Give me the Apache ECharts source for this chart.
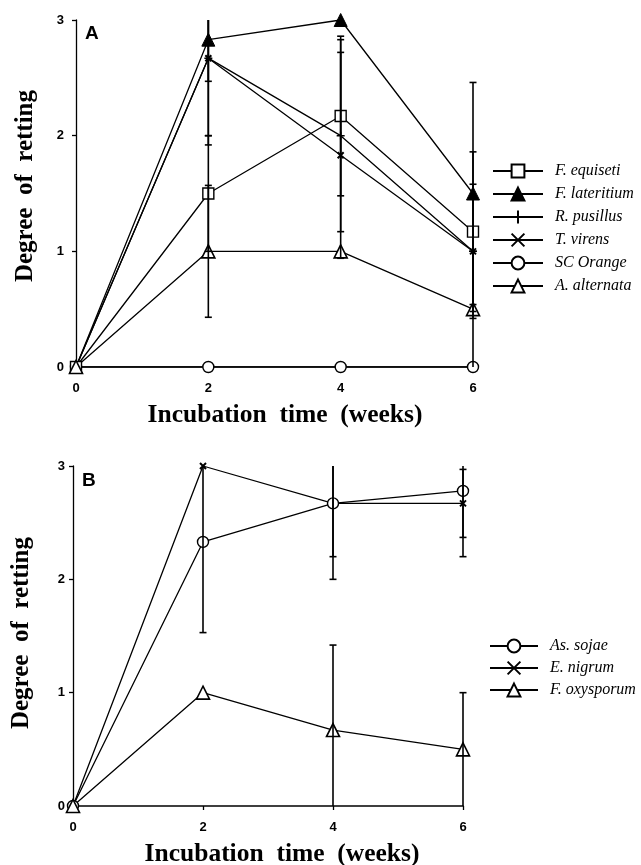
<!DOCTYPE html>
<html>
<head>
<meta charset="utf-8">
<script src="https://cdn.jsdelivr.net/npm/echarts@6/dist/echarts.min.js"></script>
<style>
html,body{margin:0;padding:0;background:#fff;}
#chart{width:641px;height:865px;}
</style>
</head>
<body>
<div id="chart"></div>
<script>
// ---- data ----
const weeks = [0, 2, 4, 6];
const xTicks = [0, 2, 4, 6];
const yTicks = [0, 1, 2, 3];

// Panel A
const fEquiseti = [0, 1.5, 2.17, 1.17];
const fEquisetiErr = [0, 0.5, 0.69, 0.69];
const fLateritium = [0, 2.83, 3.0, 1.5];
const fLateritiumErr = [0, 0.36, 0, 0.96];
const rPusillus = [0, 2.67, 2.0, 1.0];
const rPusillusErr = [0, 0.75, 0.83, 0.58];
const tVirens = [0, 2.67, 1.83, 1.0];
const tVirensErr = [0, 0.67, 0.89, 0];
const scOrange = [0, 0, 0, 0];
const scOrangeErr = [0, 0, 0, 0];
const aAlternata = [0, 1.0, 1.0, 0.5];
const aAlternataErr = [0, 0.57, 0, 0.5];

// Panel B
const asSojae = [0, 2.33, 2.67, 2.78];
const asSojaeErr = [0, 0.8, 0.67, 0.58];
const eNigrum = [0, 3.0, 2.67, 2.67];
const eNigrumErr = [0, 0, 0.47, 0.3];
const fOxysporum = [0, 1.0, 0.67, 0.5];
const fOxysporumErr = [0, 0, 0.75, 0.5];

const namesA = ['F. equiseti', 'F. lateritium', 'R. pusillus', 'T. virens', 'SC Orange', 'A. alternata'];
const namesB = ['As. sojae', 'E. nigrum', 'F. oxysporum'];

// ---- styles ----
const Y_MIN = 0, Y_MAX = 3;
const PLUS = 'path://M0,5L10,5M5,0L5,10';
const CROSS = 'path://M0,0L10,10M10,0L0,10';
const markers = {
  square: {symbol: 'rect', symbolSize: 11, itemStyle: {color: '#fff', borderColor: '#000', borderWidth: 1.4}},
  filledTri: {symbol: 'triangle', symbolSize: 13, itemStyle: {color: '#000', borderColor: '#000', borderWidth: 1}},
  plus: {symbol: PLUS, symbolSize: 8, itemStyle: {color: '#000', borderColor: '#000', borderWidth: 1.5}},
  cross: {symbol: CROSS, symbolSize: 6, itemStyle: {color: '#000', borderColor: '#000', borderWidth: 2}},
  circle: {symbol: 'circle', symbolSize: 11, itemStyle: {color: '#fff', borderColor: '#000', borderWidth: 1.4}},
  openTri: {symbol: 'triangle', symbolSize: 13, itemStyle: {color: '#fff', borderColor: '#000', borderWidth: 1.6}}
};

function pairs(vals) { return weeks.map((w, i) => [w, vals[i]]); }
function errs(vals, e) {
  const out = [];
  weeks.forEach((w, i) => { if (e[i] > 0) out.push([w, vals[i] - e[i], vals[i] + e[i]]); });
  return out;
}

function lineSeries(name, vals, mk, idx) {
  return Object.assign({
    type: 'line', name: name, data: pairs(vals),
    xAxisIndex: idx, yAxisIndex: idx,
    lineStyle: {color: '#000', width: 1.3},
    showSymbol: true, z: 2, animation: false, silent: true
  }, JSON.parse(JSON.stringify(mk)));
}

function errSeries(name, vals, e, idx) {
  return {
    type: 'custom', name: name + ' err', xAxisIndex: idx, yAxisIndex: idx,
    data: errs(vals, e), clip: false, z: 3, animation: false, silent: true,
    renderItem: function (params, api) {
      const x = api.value(0), lo = api.value(1), hi = api.value(2);
      const loC = Math.max(lo, Y_MIN), hiC = Math.min(hi, Y_MAX);
      const p0 = api.coord([x, hiC]), p1 = api.coord([x, loC]);
      const w = 3.5, st = {stroke: '#000', lineWidth: 1.6};
      const ch = [{type: 'line', shape: {x1: p0[0], y1: p0[1], x2: p1[0], y2: p1[1]}, style: st}];
      if (hi <= Y_MAX) ch.push({type: 'line', shape: {x1: p0[0] - w, y1: p0[1], x2: p0[0] + w, y2: p0[1]}, style: st});
      if (lo > Y_MIN) ch.push({type: 'line', shape: {x1: p1[0] - w, y1: p1[1], x2: p1[0] + w, y2: p1[1]}, style: st});
      return {type: 'group', children: ch};
    }
  };
}

const tickFont = {fontFamily: '"Liberation Sans", Arial, sans-serif', fontWeight: 'bold', fontSize: 13, color: '#000'};
function xAx(idx) {
  return {type: 'value', gridIndex: idx, min: 0, max: 6, interval: 2,
    splitLine: {show: false},
    axisLine: {show: true, onZero: false, lineStyle: {color: '#000', width: 1.6}},
    axisTick: {show: true, length: 4, lineStyle: {color: '#000', width: 1.3}},
    axisLabel: Object.assign({margin: 15}, tickFont)};
}
function yAx(idx, margin) {
  return {type: 'value', gridIndex: idx, min: Y_MIN, max: Y_MAX, interval: 1,
    splitLine: {show: false},
    axisLine: {show: true, onZero: false, lineStyle: {color: '#000', width: 1.3}},
    axisTick: {show: true, length: 4, lineStyle: {color: '#000', width: 1.3}},
    axisLabel: Object.assign({margin: margin}, tickFont)};
}

const legendText = {fontFamily: '"Liberation Serif", "Times New Roman", serif', fontStyle: 'italic', fontSize: 16, color: '#000', padding: [0, 0, 0, 7]};
const titleFont = 'bold 25.5px "Liberation Serif", "Times New Roman", serif';
const yTitleFont = 'bold 25px "Liberation Serif", "Times New Roman", serif';
const labelFont = 'bold 19px "Liberation Sans", Arial, sans-serif';

const option = {
  backgroundColor: '#fff',
  animation: false,
  grid: [
    {left: 76, top: 20, width: 397, height: 347, outerBoundsMode: 'none', containLabel: false},
    {left: 73, top: 466, width: 390, height: 340, outerBoundsMode: 'none', containLabel: false}
  ],
  xAxis: [xAx(0), xAx(1)],
  yAxis: [yAx(0, 12), yAx(1, 8)],
  legend: [
    {orient: 'vertical', left: 487, top: 158, itemWidth: 50, itemHeight: 16, itemGap: 7,
      data: namesA, textStyle: legendText, selectedMode: false},
    {orient: 'vertical', left: 484, top: 633, itemWidth: 48, itemHeight: 16, itemGap: 6,
      data: namesB, textStyle: legendText, selectedMode: false}
  ],
  graphic: [
    {type: 'text', x: 26, y: 186, rotation: Math.PI / 2, style: {text: 'Degree  of  retting', font: yTitleFont, fill: '#000', textAlign: 'center', textVerticalAlign: 'middle'}},
    {type: 'text', x: 285, y: 415, style: {text: 'Incubation  time  (weeks)', font: titleFont, fill: '#000', textAlign: 'center', textVerticalAlign: 'middle'}},
    {type: 'text', x: 22, y: 633, rotation: Math.PI / 2, style: {text: 'Degree  of  retting', font: yTitleFont, fill: '#000', textAlign: 'center', textVerticalAlign: 'middle'}},
    {type: 'text', x: 282, y: 854, style: {text: 'Incubation  time  (weeks)', font: titleFont, fill: '#000', textAlign: 'center', textVerticalAlign: 'middle'}},
    {type: 'text', x: 85, y: 24, style: {text: 'A', font: labelFont, fill: '#000', textAlign: 'left', textVerticalAlign: 'top'}},
    {type: 'text', x: 82, y: 471, style: {text: 'B', font: labelFont, fill: '#000', textAlign: 'left', textVerticalAlign: 'top'}}
  ],
  series: [
    lineSeries('F. lateritium', fLateritium, markers.filledTri, 0),
    lineSeries('T. virens', tVirens, markers.cross, 0),
    lineSeries('R. pusillus', rPusillus, markers.plus, 0),
    lineSeries('SC Orange', scOrange, markers.circle, 0),
    lineSeries('F. equiseti', fEquiseti, markers.square, 0),
    lineSeries('A. alternata', aAlternata, markers.openTri, 0),
    errSeries('F. equiseti', fEquiseti, fEquisetiErr, 0),
    errSeries('F. lateritium', fLateritium, fLateritiumErr, 0),
    errSeries('R. pusillus', rPusillus, rPusillusErr, 0),
    errSeries('T. virens', tVirens, tVirensErr, 0),
    errSeries('SC Orange', scOrange, scOrangeErr, 0),
    errSeries('A. alternata', aAlternata, aAlternataErr, 0),
    lineSeries('E. nigrum', eNigrum, markers.cross, 1),
    lineSeries('As. sojae', asSojae, markers.circle, 1),
    lineSeries('F. oxysporum', fOxysporum, markers.openTri, 1),
    errSeries('As. sojae', asSojae, asSojaeErr, 1),
    errSeries('E. nigrum', eNigrum, eNigrumErr, 1),
    errSeries('F. oxysporum', fOxysporum, fOxysporumErr, 1)
  ]
};

const chart = echarts.init(document.getElementById('chart'), null, {renderer: 'canvas'});
chart.setOption(option);
</script>
</body>
</html>
